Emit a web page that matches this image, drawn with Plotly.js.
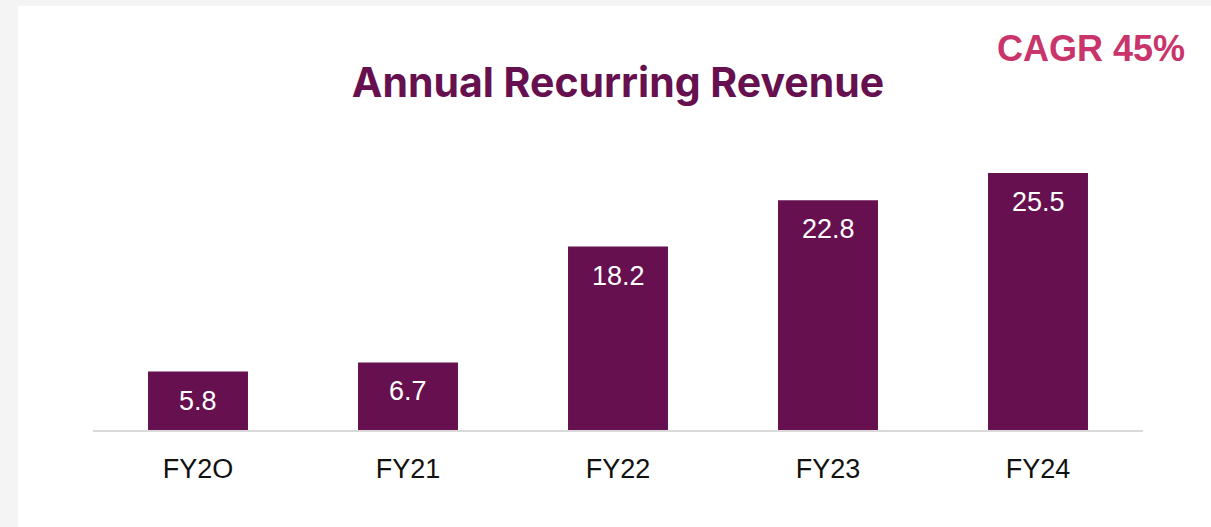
<!DOCTYPE html>
<html>
<head>
<meta charset="utf-8">
<script src="https://cdn.plot.ly/plotly-3.0.1.min.js"></script>
<style>
html,body{margin:0;padding:0;width:1211px;height:527px;overflow:hidden;background:#f4f4f4;}
#chart{position:absolute;left:18px;top:6px;width:1193px;height:521px;background:#fff;}
</style>
</head>
<body>
<div id="chart"></div>
<script>
const categories = ["FY2O", "FY21", "FY22", "FY23", "FY24"];
const arrValues = [5.8, 6.7, 18.2, 22.8, 25.5];
const valueLabels = ["5.8", "6.7", "18.2", "22.8", "25.5"];
const chartTitle = "Annual Recurring Revenue";
const cagrText = "CAGR 45%";

const barColor = "#66104f";

const trace = {
  type: "bar",
  x: categories,
  y: arrValues,
  marker: {color: barColor},
  hoverinfo: "none"
};

const annotations = categories.map((c, i) => ({
  x: c, y: arrValues[i], xref: "x", yref: "y",
  text: valueLabels[i], showarrow: false,
  yanchor: "middle", yshift: -29,
  font: {family: "Liberation Sans, Arial, sans-serif", size: 27, color: "#ffffff"}
}));
annotations.push({
  xref: "paper", yref: "paper", x: 1, y: 1,
  xanchor: "right", yanchor: "middle", xshift: 44, yshift: 82,
  text: "<b>" + cagrText + "</b>", showarrow: false,
  font: {family: "Liberation Sans, Arial, sans-serif", size: 36, color: "#c9356b"}
});

const layout = {
  width: 1193, height: 521,
  margin: {l: 75, r: 68, t: 124, b: 97},
  paper_bgcolor: "#ffffff",
  plot_bgcolor: "#ffffff",
  showlegend: false,
  bargap: 0.524,
  title: {
    text: "<b>" + chartTitle + "</b>",
    x: 0.5, xref: "paper", xanchor: "center",
    y: 1 - 77/521, yref: "container", yanchor: "middle",
    font: {family: "Inter, Lato, sans-serif", size: 41, color: "#66104f"}
  },
  xaxis: {
    type: "category",
    range: [-0.5, 4.5],
    showline: true, linecolor: "#d9d9d9", linewidth: 2,
    showgrid: false, zeroline: false,
    ticks: "", ticklabelstandoff: 14,
    tickfont: {family: "Liberation Sans, Arial, sans-serif", size: 27, color: "#111111"}
  },
  yaxis: {
    range: [0, 300/10.08],
    showgrid: false, zeroline: false, showline: false,
    showticklabels: false, ticks: ""
  },
  annotations: annotations
};

Plotly.newPlot("chart", [trace], layout, {displayModeBar: false, staticPlot: true});
</script>
</body>
</html>
